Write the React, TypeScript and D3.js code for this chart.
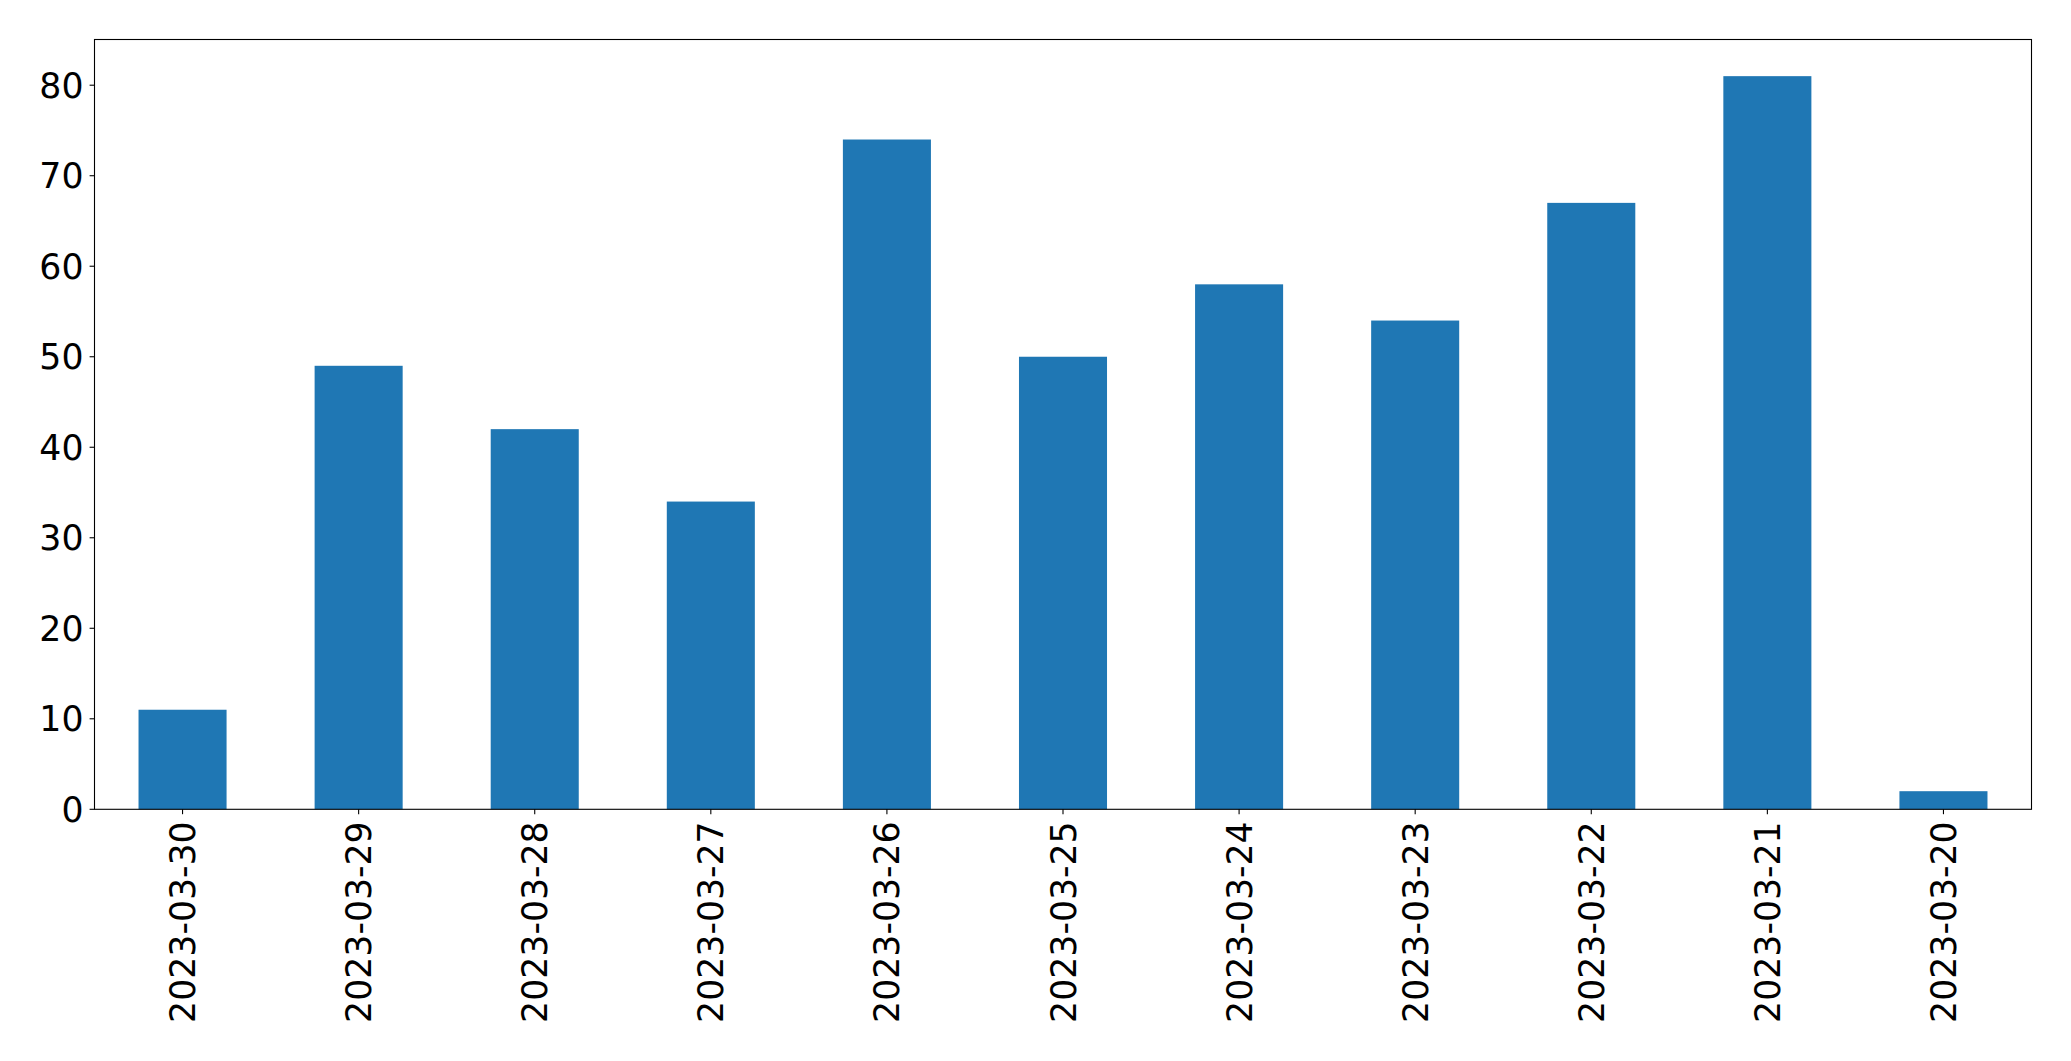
import React from "react";
import * as d3 from "d3";

const categories = ["2023-03-30","2023-03-29","2023-03-28","2023-03-27","2023-03-26","2023-03-25","2023-03-24","2023-03-23","2023-03-22","2023-03-21","2023-03-20"];
const values = [11, 49, 42, 34, 74, 50, 58, 54, 67, 81, 2];
const yTicks = [0, 10, 20, 30, 40, 50, 60, 70, 80];

const W = 2071, H = 1061;
const left = 94.5, right = 2031.5, top = 39.5, bottom = 809.3;
const FONT = "'DejaVu Sans', sans-serif";
const FS = 34.7;

export default function App() {
  const x = d3.scaleBand<string>().domain(categories).range([left, right]).paddingInner(0.5).paddingOuter(0.25);
  const yMax = d3.max(values)! * 1.05;
  const y = d3.scaleLinear().domain([0, yMax]).range([bottom, top]);
  return (
    <svg width={W} height={H} style={{ position: "absolute", left: 0, top: 0, background: "#fff" }}>
      {categories.map((c, i) => (
        <rect key={c} x={x(c)} y={y(values[i])} width={x.bandwidth()} height={y(0) - y(values[i])} fill="#1f77b4" />
      ))}
      <rect x={left} y={top} width={right - left} height={bottom - top} fill="none" stroke="#000" strokeWidth={1.1} />
      {yTicks.map((t) => (
        <g key={t}>
          <line x1={left - 4.9} x2={left} y1={y(t)} y2={y(t)} stroke="#000" strokeWidth={1.1} />
          <text x={left - 11} y={y(t)} dy="0.36em" textAnchor="end" fontFamily={FONT} fontSize={FS} fill="#000">{t}</text>
        </g>
      ))}
      {categories.map((c) => {
        const cx = x(c)! + x.bandwidth() / 2;
        return (
          <g key={c}>
            <line x1={cx} x2={cx} y1={bottom} y2={bottom + 4.9} stroke="#000" strokeWidth={1.1} />
            <text transform={`translate(${cx},${bottom + 12}) rotate(-90)`} dy="0.36em" textAnchor="end" fontFamily={FONT} fontSize={FS} fill="#000">{c}</text>
          </g>
        );
      })}
    </svg>
  );
}
